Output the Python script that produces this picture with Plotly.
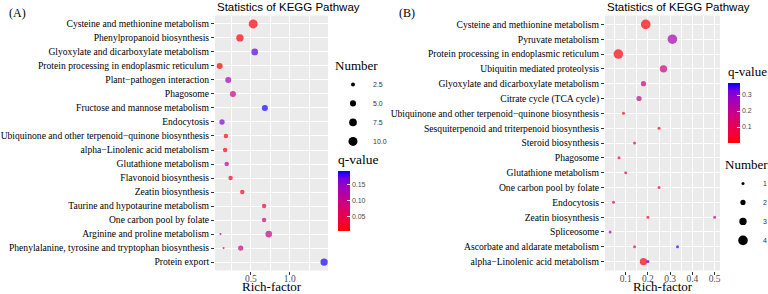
import plotly.graph_objects as go

# ---------------- Panel A data ----------------
A_categories = [
    "Cysteine and methionine metabolism",
    "Phenylpropanoid biosynthesis",
    "Glyoxylate and dicarboxylate metabolism",
    "Protein processing in endoplasmic reticulum",
    "Plant\u2212pathogen interaction",
    "Phagosome",
    "Fructose and mannose metabolism",
    "Endocytosis",
    "Ubiquinone and other terpenoid\u2212quinone biosynthesis",
    "alpha\u2212Linolenic acid metabolism",
    "Glutathione metabolism",
    "Flavonoid biosynthesis",
    "Zeatin biosynthesis",
    "Taurine and hypotaurine metabolism",
    "One carbon pool by folate",
    "Arginine and proline metabolism",
    "Phenylalanine, tyrosine and tryptophan biosynthesis",
    "Protein export",
]
A_pathway = [
    "Cysteine and methionine metabolism",
    "Phenylpropanoid biosynthesis",
    "Glyoxylate and dicarboxylate metabolism",
    "Protein processing in endoplasmic reticulum",
    "Plant\u2212pathogen interaction",
    "Phagosome",
    "Fructose and mannose metabolism",
    "Endocytosis",
    "Ubiquinone and other terpenoid\u2212quinone biosynthesis",
    "alpha\u2212Linolenic acid metabolism",
    "Glutathione metabolism",
    "Flavonoid biosynthesis",
    "Zeatin biosynthesis",
    "Taurine and hypotaurine metabolism",
    "One carbon pool by folate",
    "Arginine and proline metabolism",
    "Arginine and proline metabolism",
    "Phenylalanine, tyrosine and tryptophan biosynthesis",
    "Phenylalanine, tyrosine and tryptophan biosynthesis",
    "Protein export",
]
A_rich = [0.53, 0.36, 0.55, 0.10, 0.21, 0.27, 0.68, 0.13, 0.18, 0.17,
          0.19, 0.24, 0.39, 0.67, 0.67, 0.11, 0.73, 0.15, 0.37, 1.44]
A_number = [10, 7, 6, 5, 5, 5, 5, 4, 3, 3, 3, 3, 3, 3, 3, 1, 6, 1, 4, 7]
A_qvalue = [0.005, 0.01, 0.175, 0.005, 0.14, 0.09, 0.19, 0.16, 0.01, 0.01,
            0.11, 0.015, 0.015, 0.035, 0.09, 0.13, 0.10, 0.10, 0.09, 0.19]
A_size_breaks = [2.5, 5.0, 7.5, 10.0]
A_size_labels = ["2.5", "5.0", "7.5", "10.0"]
A_q_ticks = [0.05, 0.10, 0.15]
A_q_labels = ["0.05", "0.10", "0.15"]
A_x_ticks = [0.5, 1.0]
A_x_labels = ["0.5", "1.0"]

# ---------------- Panel B data ----------------
B_categories = [
    "Cysteine and methionine metabolism",
    "Pyruvate metabolism",
    "Protein processing in endoplasmic reticulum",
    "Ubiquitin mediated proteolysis",
    "Glyoxylate and dicarboxylate metabolism",
    "Citrate cycle (TCA cycle)",
    "Ubiquinone and other terpenoid\u2212quinone biosynthesis",
    "Sesquiterpenoid and triterpenoid biosynthesis",
    "Steroid biosynthesis",
    "Phagosome",
    "Glutathione metabolism",
    "One carbon pool by folate",
    "Endocytosis",
    "Zeatin biosynthesis",
    "Spliceosome",
    "Ascorbate and aldarate metabolism",
    "alpha\u2212Linolenic acid metabolism",
]
B_pathway = [
    "Cysteine and methionine metabolism",
    "Pyruvate metabolism",
    "Protein processing in endoplasmic reticulum",
    "Ubiquitin mediated proteolysis",
    "Glyoxylate and dicarboxylate metabolism",
    "Citrate cycle (TCA cycle)",
    "Ubiquinone and other terpenoid\u2212quinone biosynthesis",
    "Sesquiterpenoid and triterpenoid biosynthesis",
    "Steroid biosynthesis",
    "Phagosome",
    "Glutathione metabolism",
    "One carbon pool by folate",
    "Endocytosis",
    "Zeatin biosynthesis",
    "Zeatin biosynthesis",
    "Spliceosome",
    "Ascorbate and aldarate metabolism",
    "Ascorbate and aldarate metabolism",
    "alpha\u2212Linolenic acid metabolism",
    "alpha\u2212Linolenic acid metabolism",
]
B_rich = [0.19, 0.31, 0.067, 0.27, 0.18, 0.16, 0.09, 0.25, 0.14, 0.07,
          0.10, 0.25, 0.045, 0.20, 0.50, 0.03, 0.14, 0.333, 0.18, 0.20]
B_number = [4, 4, 4, 3, 2, 2, 1, 1, 1, 1, 1, 1, 1, 1, 1, 1, 1, 1, 3, 1]
B_qvalue = [0.01, 0.25, 0.01, 0.17, 0.17, 0.20, 0.02, 0.03, 0.03, 0.07,
            0.07, 0.07, 0.10, 0.03, 0.22, 0.25, 0.05, 0.36, 0.01, 0.36]
B_size_breaks = [1, 2, 3, 4]
B_size_labels = ["1", "2", "3", "4"]
B_q_ticks = [0.1, 0.2, 0.3]
B_q_labels = ["0.1", "0.2", "0.3"]
B_x_ticks = [0.1, 0.2, 0.3, 0.4, 0.5]
B_x_labels = ["0.1", "0.2", "0.3", "0.4", "0.5"]

# ---------------- styling ----------------
SERIF = "Liberation Serif, Times New Roman, serif"
SANS = "Liberation Sans, Arial, sans-serif"
W, H = 768, 294
COLORSCALE = [[0.0, "#FF0000"], [0.125, "#F40031"], [0.25, "#E8004F"],
              [0.5, "#C90089"], [0.75, "#9A00C3"], [0.875, "#7300E1"],
              [1.0, "#0000FF"]]


def size_a(n):
    return -1 + 3.16 * n ** 0.5


def size_b(n):
    return 3 + 2.2 * (n - 1)


def px_x(p):
    return p / W


def px_y(p):
    return 1 - p / H


fig = go.Figure()

# main points
fig.add_trace(go.Scatter(
    x=A_rich, y=A_pathway, mode="markers", xaxis="x", yaxis="y",
    marker=dict(size=[size_a(n) for n in A_number], color=A_qvalue,
                coloraxis="coloraxis", line=dict(width=0)),
    showlegend=False))
fig.add_trace(go.Scatter(
    x=B_rich, y=B_pathway, mode="markers", xaxis="x2", yaxis="y2",
    marker=dict(size=[size_b(n) for n in B_number], color=B_qvalue,
                coloraxis="coloraxis2", line=dict(width=0)),
    showlegend=False))

# size legends
for v, lab in zip(A_size_breaks, A_size_labels):
    fig.add_trace(go.Scatter(x=[None], y=[None], mode="markers", xaxis="x", yaxis="y",
                             marker=dict(size=size_a(v), color="black"),
                             name=lab, legend="legend", showlegend=True))
for v, lab in zip(B_size_breaks, B_size_labels):
    fig.add_trace(go.Scatter(x=[None], y=[None], mode="markers", xaxis="x2", yaxis="y2",
                             marker=dict(size=size_b(v), color="black"),
                             name=lab, legend="legend2", showlegend=True))

ydom = [px_y(270.5), px_y(15.5)]

xaxis_common = dict(
    showline=False, ticks="outside", ticklen=3, tickcolor="#333333",
    tickfont=dict(family=SERIF, size=9.5, color="#4D4D4D"),
    gridcolor="white", gridwidth=1, zeroline=False, automargin=False,
    ticklabelstandoff=-4,
)
yaxis_common = dict(
    showline=False, ticks="outside", ticklen=3, tickcolor="#333333",
    tickfont=dict(family=SERIF, size=9.6, color="black"),
    gridcolor="white", gridwidth=1, zeroline=False, categoryorder="array",
    automargin=False,
)

fig.update_layout(
    width=W, height=H, margin=dict(l=0, r=0, t=0, b=0, autoexpand=False),
    paper_bgcolor="white", plot_bgcolor="#EBEBEB",
    xaxis=dict(domain=[px_x(215), px_x(328)], range=[0.04, 1.49], anchor="y",
               tickvals=A_x_ticks, ticktext=A_x_labels,
               minor=dict(dtick=0.25, tick0=0, showgrid=True, gridcolor="white",
                          gridwidth=0.5, ticks=""),
               **xaxis_common),
    yaxis=dict(domain=ydom, anchor="x", categoryarray=A_categories[::-1],
               range=[-0.6, len(A_categories) - 1 + 0.6], **yaxis_common),
    xaxis2=dict(domain=[px_x(605), px_x(720)], range=[0.007, 0.524], anchor="y2",
                tickvals=B_x_ticks, ticktext=B_x_labels,
                minor=dict(dtick=0.05, tick0=0, showgrid=True, gridcolor="white",
                           gridwidth=0.5, ticks=""),
                **xaxis_common),
    yaxis2=dict(domain=ydom, anchor="x2", categoryarray=B_categories[::-1],
                range=[-0.6, len(B_categories) - 1 + 0.6], **yaxis_common),
    coloraxis=dict(
        colorscale=COLORSCALE, cmin=0.002, cmax=0.195,
        colorbar=dict(
            title=dict(text="q-value", side="top", font=dict(family=SERIF, size=13.5, color="black")),
            x=px_x(338), xanchor="left", y=px_y(231), yanchor="bottom",
            len=80, lenmode="pixels", thickness=12, thicknessmode="pixels",
            tickvals=A_q_ticks, ticktext=A_q_labels, ticks="inside", ticklen=3,
            tickcolor="white", tickfont=dict(family=SANS, size=7, color="#4D4D4D"),
            outlinewidth=0, xpad=0, ypad=0)),
    coloraxis2=dict(
        colorscale=COLORSCALE, cmin=0.0, cmax=0.375,
        colorbar=dict(
            title=dict(text="q-value", side="top", font=dict(family=SERIF, size=13, color="black")),
            x=px_x(728), xanchor="left", y=px_y(143), yanchor="bottom",
            len=80, lenmode="pixels", thickness=12, thicknessmode="pixels",
            tickvals=B_q_ticks, ticktext=B_q_labels, ticks="inside", ticklen=3,
            tickcolor="white", tickfont=dict(family=SANS, size=7, color="#4D4D4D"),
            outlinewidth=0, xpad=0, ypad=0)),
    legend=dict(
        x=px_x(333), xanchor="left", y=px_y(53), yanchor="top",
        title=dict(text="Number", font=dict(family=SERIF, size=13, color="black")),
        font=dict(family=SANS, size=7, color="#333333"),
        bgcolor="rgba(0,0,0,0)", tracegroupgap=0, itemwidth=30),
    legend2=dict(
        x=px_x(723), xanchor="left", y=px_y(152), yanchor="top",
        title=dict(text="Number", font=dict(family=SERIF, size=13, color="black")),
        font=dict(family=SANS, size=7, color="#333333"),
        bgcolor="rgba(0,0,0,0)", tracegroupgap=0, itemwidth=30),
)

# titles, panel letters, axis titles
for xref, label, lx in [("x domain", "(A)", 17), ("x2 domain", "(B)", 407)]:
    fig.add_annotation(text="Statistics of KEGG Pathway", xref=xref, yref="paper",
                       x=0, y=px_y(7), xanchor="left", yanchor="middle", showarrow=False,
                       font=dict(family=SANS, size=11.5, color="black"))
    fig.add_annotation(text="Rich-factor", xref=xref, yref="paper",
                       x=0.5, y=px_y(286.5), xanchor="center", yanchor="middle", showarrow=False,
                       font=dict(family=SERIF, size=13, color="black"))
    fig.add_annotation(text=label, xref="paper", yref="paper",
                       x=px_x(lx), y=px_y(13), xanchor="center", yanchor="middle", showarrow=False,
                       font=dict(family=SERIF, size=12, color="black"))

fig.write_html("out.html")
